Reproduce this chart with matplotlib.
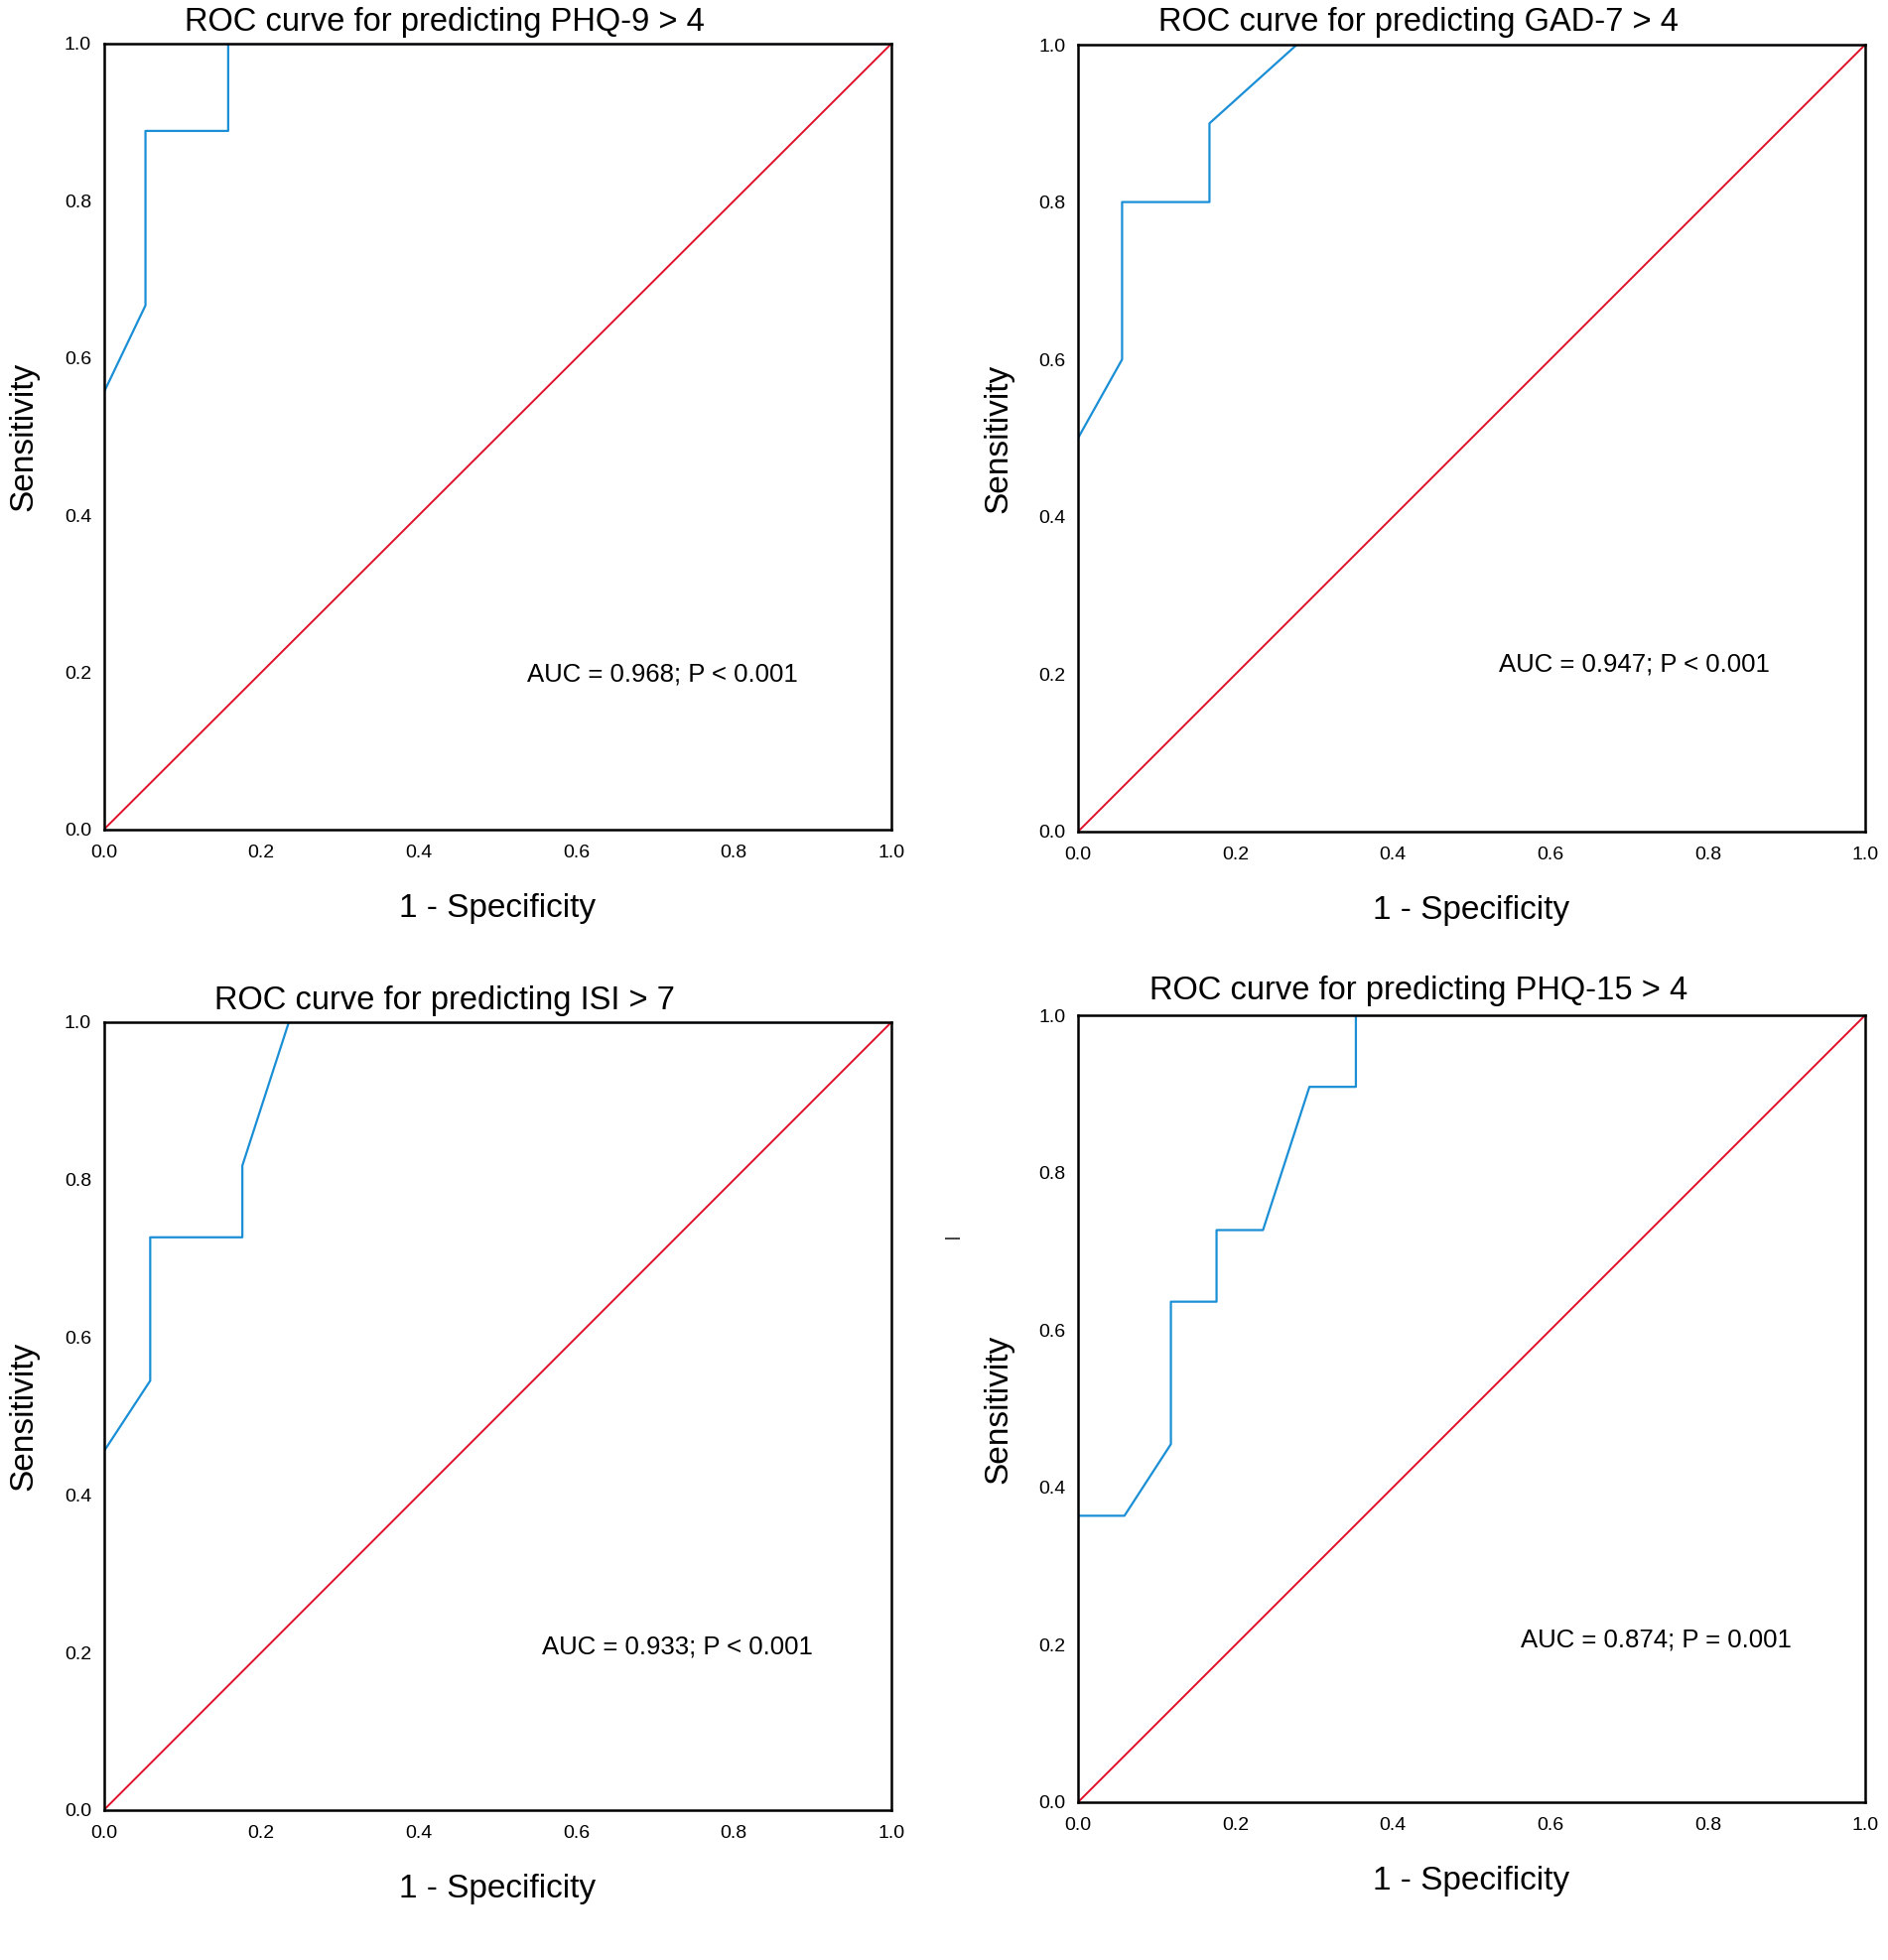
import matplotlib
matplotlib.use('Agg')
import matplotlib.pyplot as plt
from matplotlib.lines import Line2D

plt.rcParams['font.family'] = ['Liberation Sans', 'DejaVu Sans']

# ROC points (1 - specificity, sensitivity)
phq9_fpr = [0.0, 0.053, 0.053, 0.158, 0.158, 1.0]
phq9_tpr = [0.556, 0.667, 0.889, 0.889, 1.0, 1.0]

gad7_fpr = [0.0, 0.056, 0.056, 0.167, 0.167, 0.278, 1.0]
gad7_tpr = [0.5, 0.6, 0.8, 0.8, 0.9, 1.0, 1.0]

isi_fpr = [0.0, 0.059, 0.059, 0.176, 0.176, 0.235, 1.0]
isi_tpr = [0.455, 0.545, 0.727, 0.727, 0.818, 1.0, 1.0]

phq15_fpr = [0.0, 0.059, 0.118, 0.118, 0.176, 0.176, 0.235, 0.294, 0.353, 0.353, 1.0]
phq15_tpr = [0.364, 0.364, 0.455, 0.636, 0.636, 0.727, 0.727, 0.909, 0.909, 1.0, 1.0]

titles = ['ROC curve for predicting PHQ-9 > 4',
          'ROC curve for predicting GAD-7 > 4',
          'ROC curve for predicting ISI > 7',
          'ROC curve for predicting PHQ-15 > 4']
auc_texts = ['AUC = 0.968; P < 0.001',
             'AUC = 0.947; P < 0.001',
             'AUC = 0.933; P < 0.001',
             'AUC = 0.874; P = 0.001']
ticks = [0.0, 0.2, 0.4, 0.6, 0.8, 1.0]
tick_labels = ['0.0', '0.2', '0.4', '0.6', '0.8', '1.0']

curves = [(phq9_fpr, phq9_tpr), (gad7_fpr, gad7_tpr),
          (isi_fpr, isi_tpr), (phq15_fpr, phq15_tpr)]

W, H = 1902, 1975
fig = plt.figure(figsize=(W / 100, H / 100), dpi=100)

# axes boxes in pixels: left, top, right, bottom
boxes = [(104.5, 44, 898, 836), (1086, 45, 1879, 838),
         (104.5, 1030, 898, 1824), (1086, 1023, 1879, 1816)]
auc_pos = [(0.537, 0.198), (0.535, 0.213), (0.557, 0.207), (0.563, 0.206)]
title_gap = [12.5, 13.5, 12.5, 16.5]

blue = '#1b8fd6'
red = '#e0102b'

for i, (l, t, r, b) in enumerate(boxes):
    ax = fig.add_axes([l / W, 1 - b / H, (r - l) / W, (b - t) / H])
    fpr, tpr = curves[i]
    ax.plot([0, 1], [0, 1], color=red, lw=1.4)
    ax.plot(fpr, tpr, color=blue, lw=1.6)
    ax.set_xlim(0, 1)
    ax.set_ylim(0, 1)
    ax.set_xticks(ticks)
    ax.set_xticklabels(tick_labels)
    ax.set_yticks(ticks)
    ax.set_yticklabels(tick_labels)
    ax.tick_params(length=0, labelsize=14)
    ax.tick_params(axis='x', pad=11)
    ax.tick_params(axis='y', pad=9)
    for s in ax.spines.values():
        s.set_linewidth(1.8)
        s.set_color('black')
    ax.set_xlabel('1 - Specificity', fontsize=24, labelpad=23)
    ax.set_ylabel('Sensitivity', fontsize=24, labelpad=18)
    ax.text(0.433, 1 + title_gap[i] / (b - t), titles[i], transform=ax.transAxes,
            ha='center', va='baseline', fontsize=23.5)
    ax.text(auc_pos[i][0], auc_pos[i][1], auc_texts[i], ha='left', va='center',
            fontsize=18.5)

# small stray dash between the lower panels
fig.add_artist(Line2D([953 / W, 966 / W], [1 - 1247.5 / H, 1 - 1247.5 / H],
                      color='#444444', lw=1.4))

fig.savefig('out.png', dpi=100, facecolor='white')
